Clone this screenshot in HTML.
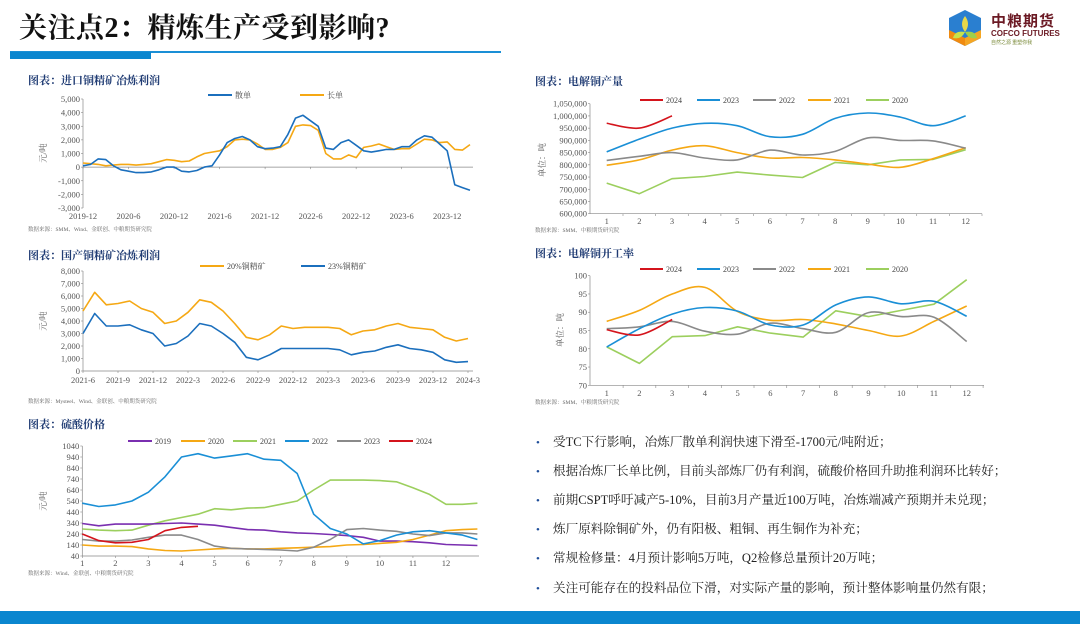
<!DOCTYPE html>
<html><head><meta charset="utf-8">
<style>
html,body{margin:0;padding:0;background:#fff;}
body{width:1080px;height:624px;overflow:hidden;position:relative;font-family:"Liberation Serif","Noto Serif CJK SC",serif;}
svg text{font-family:"Liberation Serif","Noto Serif CJK SC",serif;}
.bul{position:absolute;left:536px;font-size:12.6px;color:#222;white-space:nowrap;}
.bul span{color:#1f4e9a;display:inline-block;width:17px;font-size:11px;}
</style></head>
<body>
<div style="position:absolute;left:19px;top:6px;font-size:28px;font-weight:bold;color:#111;letter-spacing:0.5px;">关注点2：精炼生产受到影响?</div>
<div style="position:absolute;left:10px;top:51px;width:491px;height:1.5px;background:#1a8fd6;"></div>
<div style="position:absolute;left:10px;top:52px;width:141px;height:7px;background:#0a86cf;"></div>
<div style="position:absolute;left:945px;top:8px;width:130px;height:40px;">
  <svg width="40" height="40" viewBox="0 0 40 40"><polygon points="20,2 36,10 36,30 20,38 4,30 4,10" fill="#2a7fd0"/><polygon points="4,22 20,30 20,38 4,30" fill="#f08a10"/><polygon points="20,30 36,22 36,30 20,38" fill="#f5a623"/><path d="M20 8 Q26 16 20 24 Q14 16 20 8Z" fill="#e8d84a"/><path d="M20 24 Q30 22 32 30 Q24 32 20 24Z" fill="#9fd04a"/><path d="M20 24 Q10 22 8 30 Q16 32 20 24Z" fill="#c7e24a"/></svg>
  <div style="position:absolute;left:46px;top:2px;font-size:15px;font-weight:bold;color:#6b1a24;font-family:'Noto Sans CJK SC',sans-serif;letter-spacing:1px;">中粮期货</div>
  <div style="position:absolute;left:46px;top:21px;font-size:8px;font-weight:bold;color:#6b1a24;font-family:'Liberation Sans',sans-serif;">COFCO FUTURES</div>
  <div style="position:absolute;left:46px;top:31px;font-size:5px;color:#7a8a3a;font-family:'Noto Sans CJK SC',sans-serif;">自然之源 重塑你我</div>
</div>

<svg id="charts" width="1080" height="624" style="position:absolute;left:0;top:0;"></svg>

<div class="bul" style="top:431px;"><span>•</span>受TC下行影响，冶炼厂散单利润快速下滑至-1700元/吨附近；</div>
<div class="bul" style="top:460px;"><span>•</span>根据冶炼厂长单比例，目前头部炼厂仍有利润，硫酸价格回升助推利润环比转好；</div>
<div class="bul" style="top:489px;"><span>•</span>前期CSPT呼吁减产5-10%，目前3月产量近100万吨，冶炼端减产预期并未兑现；</div>
<div class="bul" style="top:518px;"><span>•</span>炼厂原料除铜矿外，仍有阳极、粗铜、再生铜作为补充；</div>
<div class="bul" style="top:547px;"><span>•</span>常规检修量：4月预计影响5万吨，Q2检修总量预计20万吨；</div>
<div class="bul" style="top:577px;"><span>•</span>关注可能存在的投料品位下滑，对实际产量的影响，预计整体影响量仍然有限；</div>
<div style="position:absolute;left:0;top:611px;width:1080px;height:13px;background:#0a86cf;"></div>

<script>
// ---- Chart 1: imported concentrate smelting profit (monthly from 2019-12)
const c1Ticks = [5000,4000,3000,2000,1000,0,-1000,-2000,-3000];
const c1XLabels = ["2019-12","2020-6","2020-12","2021-6","2021-12","2022-6","2022-12","2023-6","2023-12"];
const c1Spot = [100,200,600,550,100,-200,-300,-400,-400,-350,-200,0,0,-300,-350,-250,0,100,900,1800,2100,2250,2000,1500,1350,1400,1500,2400,3600,3800,3400,3000,1400,1300,1800,2000,1600,1200,1100,1200,1300,1300,1500,1500,2000,2300,2200,1700,1200,-1300,-1500,-1700];
const c1Long = [300,250,200,100,150,200,200,150,200,250,400,550,500,400,450,750,1000,1100,1200,1500,2000,2050,2000,1700,1300,1300,1450,1800,3000,3100,3050,2700,1000,600,600,900,700,1450,1550,1700,1500,1300,1350,1350,1700,2050,2000,1800,1850,1300,1250,1650];
// ---- Chart 2: domestic concentrate profit (monthly from 2021-6)
const c2Ticks = [8000,7000,6000,5000,4000,3000,2000,1000,0];
const c2XLabels = ["2021-6","2021-9","2021-12","2022-3","2022-6","2022-9","2022-12","2023-3","2023-6","2023-9","2023-12","2024-3"];
const c2G20 = [4800,6300,5300,5400,5600,5000,4700,3800,4000,4700,5700,5500,4800,3800,2700,2500,2900,3600,3400,3500,3500,3500,3400,2900,3200,3300,3600,3800,3500,3400,3300,2700,2400,2600];
const c2G23 = [3000,4600,3600,3600,3700,3300,3000,2000,2200,2800,3800,3600,3000,2300,1100,900,1300,1800,1800,1800,1800,1800,1700,1300,1500,1600,1900,2100,1800,1700,1500,900,700,750];
// ---- Chart 3: sulfuric acid price (half-month steps)
const c3Ticks = [1040,940,840,740,640,540,440,340,240,140,40];
const c3Months = [1,1.5,2,2.5,3,3.5,4,4.5,5,5.5,6,6.5,7,7.5,8,8.5,9,9.5,10,10.5,11,11.5,12,12.5,12.95];
const c3Y2019 = [335,315,330,330,330,335,340,330,320,300,280,275,260,250,245,235,225,210,175,175,170,160,145,140,135];
const c3Y2020 = [140,130,130,125,105,90,85,95,105,110,105,105,110,115,120,125,140,145,155,165,190,230,270,280,285];
const c3Y2021 = [285,275,270,275,320,360,390,420,470,460,475,480,510,540,640,730,730,730,725,715,660,600,510,510,520];
const c3Y2022 = [520,490,505,540,620,760,940,970,930,950,970,920,910,790,420,290,240,150,180,230,260,270,250,230,190];
const c3Y2023 = [190,175,175,185,210,230,230,190,130,110,105,100,95,85,120,190,280,290,275,265,240,225,250,250,240];
const c3Y2024 = [240,180,160,165,190,270,300,310];
// ---- Chart 4: cathode output
const c4Ticks = [1050000,1000000,950000,900000,850000,800000,750000,700000,650000,600000];
const c4Cats = [1,2,3,4,5,6,7,8,9,10,11,12];
const c4Y2024 = [970000,950000,1000000];
const c4Y2023 = [853000,905000,950000,970000,960000,915000,925000,990000,1012000,995000,960000,1000000];
const c4Y2022 = [818000,835000,850000,828000,820000,860000,840000,855000,910000,900000,898000,868000];
const c4Y2021 = [798000,820000,860000,878000,850000,828000,830000,820000,803000,790000,825000,870000];
const c4Y2020 = [725000,682000,743000,752000,770000,758000,748000,810000,800000,820000,822000,862000];
// ---- Chart 5: operating rate
const c5Ticks = [100,95,90,85,80,75,70];
const c5Y2024 = [85.2,83.8,88];
const c5Y2023 = [80.5,85.5,89.5,91.3,90.3,86.5,86.5,92,94.2,92.3,93,88.9];
const c5Y2022 = [85.5,86,87.5,84.8,84,87,85.5,84.5,89.9,88.8,88.6,82];
const c5Y2021 = [87.5,90.5,95,96.8,90.2,87.8,88,86.8,85,83.5,87.5,91.7];
const c5Y2020 = [80.5,76,83.3,83.6,86,84.3,83.2,90.4,88.8,90.5,92.2,98.9];

const NS="http://www.w3.org/2000/svg";
const svg=document.getElementById('charts');
function mk(tag,attrs){const e=document.createElementNS(NS,tag);for(const k in attrs)e.setAttribute(k,attrs[k]);svg.appendChild(e);return e;}
function txt(x,y,s,size,color,anchor,extra){const t=mk('text',Object.assign({x:x,y:y,'font-size':size,fill:color,'text-anchor':anchor||'start'},extra||{}));t.textContent=s;return t;}
function lin(a,b){return v=>b[0]+(v-a[0])*(b[1]-b[0])/(a[1]-a[0]);}
function pathD(pts,smooth){
  if(!smooth||pts.length<3){return pts.map((p,i)=>(i?'L':'M')+p[0].toFixed(1)+' '+p[1].toFixed(1)).join(' ');}
  let d='M'+pts[0][0]+' '+pts[0][1];
  for(let i=0;i<pts.length-1;i++){const p0=pts[i-1]||pts[i],p1=pts[i],p2=pts[i+1],p3=pts[i+2]||p2;
    const c1=[p1[0]+(p2[0]-p0[0])/6,p1[1]+(p2[1]-p0[1])/6],c2=[p2[0]-(p3[0]-p1[0])/6,p2[1]-(p3[1]-p1[1])/6];
    d+=' C'+c1[0].toFixed(1)+' '+c1[1].toFixed(1)+' '+c2[0].toFixed(1)+' '+c2[1].toFixed(1)+' '+p2[0].toFixed(1)+' '+p2[1].toFixed(1);}
  return d;}
function series(pts,color,w,smooth,name){
  const p=mk('path',{d:pathD(pts,smooth),fill:'none',stroke:color,'stroke-width':w,'stroke-linejoin':'round'});
  
  
}
function legend(x,y,color,label,len){
  const l=mk('line',{x1:x,y1:y,x2:x+len,y2:y,stroke:color,'stroke-width':2});
  
  
  const t=txt(x+len+3,y+3,label,8,'#444');
  
  
}
function title(x,y,s,name){const t=txt(x,y,s,11,'#1f3b73','start',{'font-weight':'bold'});}
function source(x,y,s,name){const t=txt(x,y,s,5.5,'#666');}
function yaxis(x,ys,ticks,fmt,x2){
  ticks.forEach(v=>{const t=txt(x-3,ys(v)+3,fmt(v),8.5,'#555','end');
    mk('line',{x1:x-2,y1:ys(v),x2:x,y2:ys(v),stroke:'#888','stroke-width':0.6});});
  const a=mk('line',{x1:x,y1:ys(ticks[0]),x2:x,y2:ys(ticks[ticks.length-1]),stroke:'#888','stroke-width':0.7});
  
  
}
function ytitle(x,y,s){const t=txt(x,y,s,8.5,'#555','middle',{transform:'rotate(-90 '+x+' '+y+')'});}
const fmtK=v=>v.toLocaleString('en-US');

// ===== Chart 1
title(28,84,'图表：进口铜精矿冶炼利润','chart1-title');
legend(208,95,'#1b6fbd','散单',24);legend(300,95,'#f5a814','长单',24);
{const xs=lin([0,51.4],[83,473]),ys=lin([5000,-3000],[99,208]);
 yaxis(83,ys,c1Ticks,fmtK);ytitle(46,153,'元/吨');
 const z=mk('line',{x1:83,y1:ys(0),x2:473,y2:ys(0),stroke:'#888','stroke-width':0.7});
 c1XLabels.forEach((s,i)=>{const t=txt(xs(i*6),219,s,8.5,'#555','middle');mk('line',{x1:xs(i*6),y1:ys(0),x2:xs(i*6),y2:ys(0)+2,stroke:'#888','stroke-width':0.6});});
 series(c1Long.map((v,i)=>[xs(i),ys(v)]),'#f5a814',1.6,false,'series-long-term');
 series(c1Spot.map((v,i)=>[xs(i),ys(v)]),'#1b6fbd',1.6,false,'series-spot');
 source(28,231,'数据来源：SMM、Wind、金联创、中粮期货研究院','chart1-source');}

// ===== Chart 2
title(28,259,'图表：国产铜精矿冶炼利润','chart2-title');
legend(200,266,'#f5a814','20%铜精矿',24);legend(301,266,'#1b6fbd','23%铜精矿',24);
{const xs=lin([0,33],[83,468]),ys=lin([8000,0],[271,371]);
 yaxis(83,ys,c2Ticks,fmtK);ytitle(46,321,'元/吨');
 const z=mk('line',{x1:83,y1:371,x2:473,y2:371,stroke:'#888','stroke-width':0.7});
 c2XLabels.forEach((s,i)=>{const t=txt(xs(i*3),383,s,8.5,'#555','middle');mk('line',{x1:xs(i*3),y1:371,x2:xs(i*3),y2:373,stroke:'#888','stroke-width':0.6});});
 series(c2G20.map((v,i)=>[xs(i),ys(v)]),'#f5a814',1.6,false,'series-20pct-concentrate');
 series(c2G23.map((v,i)=>[xs(i),ys(v)]),'#1b6fbd',1.6,false,'series-23pct-concentrate');
 source(28,403,'数据来源：Mysteel、Wind、金联创、中粮期货研究院','chart2-source');}

// ===== Chart 3
title(28,428,'图表：硫酸价格','chart3-title');
legend(128,441,'#7a2fb0','2019',24);legend(181,441,'#f5a814','2020',24);legend(233,441,'#9ccf5e','2021',24);legend(285,441,'#1a8fd6','2022',24);legend(337,441,'#8a8a8a','2023',24);legend(389,441,'#d4141c','2024',24);
{const xs=lin([1,12],[82.3,446]),ys=lin([1040,40],[446,556]);
 yaxis(82.3,ys,c3Ticks,v=>String(v));ytitle(46,501,'元/吨');
 const z=mk('line',{x1:82.3,y1:556,x2:479,y2:556,stroke:'#888','stroke-width':0.7});
 for(let m=1;m<=12;m++){const t=txt(xs(m),566,String(m),8.5,'#555','middle');mk('line',{x1:xs(m),y1:556,x2:xs(m),y2:558,stroke:'#888','stroke-width':0.6});}
 const S=[[c3Y2021,'#9ccf5e','2021'],[c3Y2019,'#7a2fb0','2019'],[c3Y2020,'#f5a814','2020'],[c3Y2023,'#8a8a8a','2023'],[c3Y2022,'#1a8fd6','2022'],[c3Y2024,'#d4141c','2024']];
 S.forEach(s=>series(s[0].map((v,i)=>[xs(c3Months[i]),ys(v)]),s[1],1.6,false,'series-'+s[2]));
 source(28,575,'数据来源：Wind、金联创、中粮期货研究院','chart3-source');}

// ===== Chart 4
title(535,85,'图表：电解铜产量','chart4-title');
legend(640,100,'#d4141c','2024',23);legend(697,100,'#1a8fd6','2023',23);legend(753,100,'#8a8a8a','2022',23);legend(808,100,'#f5a814','2021',23);legend(866,100,'#9ccf5e','2020',23);
{const xs=lin([1,12],[606.7,965.7]),ys=lin([1050000,600000],[103.7,213.7]);
 yaxis(590,ys,c4Ticks,fmtK);ytitle(545,160,'单位：吨');
 const z=mk('line',{x1:590,y1:213.7,x2:982,y2:213.7,stroke:'#888','stroke-width':0.7});
 c4Cats.forEach(m=>{const t=txt(xs(m),224,String(m),8.5,'#555','middle');mk('line',{x1:xs(m)+16.3,y1:213.7,x2:xs(m)+16.3,y2:216,stroke:'#888','stroke-width':0.6});});
 series(c4Y2020.map((v,i)=>[xs(c4Cats[i]),ys(v)]),'#9ccf5e',1.6,false,'series-2020');
 series(c4Y2021.map((v,i)=>[xs(c4Cats[i]),ys(v)]),'#f5a814',1.6,true,'series-2021');
 series(c4Y2022.map((v,i)=>[xs(c4Cats[i]),ys(v)]),'#8a8a8a',1.6,true,'series-2022');
 series(c4Y2023.map((v,i)=>[xs(c4Cats[i]),ys(v)]),'#1a8fd6',1.6,true,'series-2023');
 series(c4Y2024.map((v,i)=>[xs(c4Cats[i]),ys(v)]),'#d4141c',1.6,true,'series-2024');
 source(535,232,'数据来源：SMM、中粮期货研究院','chart4-source');}

// ===== Chart 5
title(535,257,'图表：电解铜开工率','chart5-title');
legend(640,269,'#d4141c','2024',23);legend(697,269,'#1a8fd6','2023',23);legend(753,269,'#8a8a8a','2022',23);legend(808,269,'#f5a814','2021',23);legend(866,269,'#9ccf5e','2020',23);
{const xs=lin([1,12],[606.7,966.7]),ys=lin([100,70],[275.7,385.3]);
 yaxis(590,ys,c5Ticks,v=>String(v));ytitle(563,330,'单位：吨');
 const z=mk('line',{x1:590,y1:385.3,x2:984,y2:385.3,stroke:'#888','stroke-width':0.7});
 c4Cats.forEach(m=>{const t=txt(xs(m),396,String(m),8.5,'#555','middle');mk('line',{x1:xs(m)+16.4,y1:385.3,x2:xs(m)+16.4,y2:388,stroke:'#888','stroke-width':0.6});});
 series(c5Y2020.map((v,i)=>[xs(c4Cats[i]),ys(v)]),'#9ccf5e',1.6,false,'series-2020');
 series(c5Y2021.map((v,i)=>[xs(c4Cats[i]),ys(v)]),'#f5a814',1.6,true,'series-2021');
 series(c5Y2022.map((v,i)=>[xs(c4Cats[i]),ys(v)]),'#8a8a8a',1.6,true,'series-2022');
 series(c5Y2023.map((v,i)=>[xs(c4Cats[i]),ys(v)]),'#1a8fd6',1.6,true,'series-2023');
 series(c5Y2024.map((v,i)=>[xs(c4Cats[i]),ys(v)]),'#d4141c',1.6,true,'series-2024');
 source(535,404,'数据来源：SMM、中粮期货研究院','chart5-source');}
</script>
</body></html>
